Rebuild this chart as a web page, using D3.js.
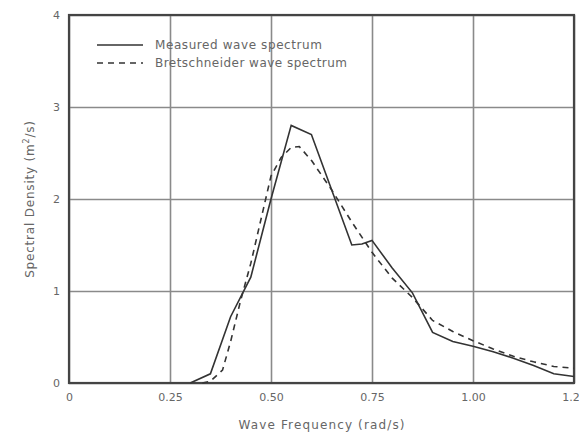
<!DOCTYPE html>
<html>
<head>
	<style type="text/css">
		body { margin: 0; background: #fff; }
		svg text { font-family: "DejaVu Sans", sans-serif; fill: #666; }
		.grid line { stroke: #8a8a8a; stroke-width: 1.6; }
		.grid path { display: none; }
		.axis path, .axis line { display: none; }
	</style>
	<script src="https://d3js.org/d3.v7.min.js"></script>
</head>
<body>
<div class="container"></div>
<script type="text/javascript">
	// values
	var freq = [0.30, 0.35, 0.40, 0.45, 0.50, 0.55, 0.60, 0.65, 0.70, 0.725, 0.75, 0.80, 0.85, 0.90, 0.95, 1.00, 1.05, 1.10, 1.15, 1.20, 1.25];
	var measured = [0, 0.10, 0.72, 1.15, 2.0, 2.8, 2.7, 2.1, 1.5, 1.51, 1.55, 1.25, 0.98, 0.55, 0.45, 0.40, 0.34, 0.27, 0.19, 0.10, 0.07];
	var bretFreq = [0.33, 0.35, 0.38, 0.40, 0.425, 0.45, 0.50, 0.525, 0.55, 0.57, 0.60, 0.65, 0.70, 0.75, 0.80, 0.85, 0.90, 0.95, 1.00, 1.05, 1.10, 1.15, 1.20, 1.25];
	var bretschneider = [0, 0.02, 0.14, 0.45, 0.9, 1.3, 2.25, 2.45, 2.56, 2.57, 2.42, 2.1, 1.75, 1.42, 1.14, 0.93, 0.68, 0.56, 0.46, 0.37, 0.29, 0.23, 0.18, 0.16];
	var xTicks = [0, 0.25, 0.5, 0.75, 1.0, 1.25];
	var yTicks = [0, 1, 2, 3, 4];
	var seriesNames = ["Measured wave spectrum", "Bretschneider wave spectrum"];

	var svg = d3.select(".container").append("svg")
		.attr("width", 579)
		.attr("height", 440);

	var margin = {top: 15, right: 5, bottom: 57, left: 69},
		width = 579 - margin.left - margin.right,
		height = 440 - margin.top - margin.bottom;

	var x = d3.scaleLinear().domain([0, 1.25]).range([0, width]),
		y = d3.scaleLinear().domain([0, 4]).range([height, 0]);

	var g = svg.append("g")
		.attr("transform", "translate(" + margin.left + "," + margin.top + ")");

	// grid
	g.append("g")
		.attr("class", "grid")
		.attr("transform", "translate(0," + height + ")")
		.call(d3.axisBottom(x).tickValues(xTicks).tickSize(-height).tickFormat(""));
	g.append("g")
		.attr("class", "grid")
		.call(d3.axisLeft(y).tickValues(yTicks).tickSize(-width).tickFormat(""));

	// tick labels
	var ax = g.append("g")
		.attr("class", "axis")
		.attr("transform", "translate(0," + height + ")")
		.call(d3.axisBottom(x).tickValues(xTicks).tickSize(0).tickPadding(10)
			.tickFormat(function(d) { return d === 0 ? "0" : d3.format(".2f")(d); }));
	ax.selectAll("text").style("font-size", "11px");

	var ay = g.append("g")
		.attr("class", "axis")
		.call(d3.axisLeft(y).tickValues(yTicks).tickSize(0).tickPadding(9).tickFormat(d3.format("d")));
	ay.selectAll("text").style("font-size", "11px");

	// frame
	g.append("rect")
		.attr("width", width)
		.attr("height", height)
		.attr("fill", "none")
		.attr("stroke", "#444")
		.attr("stroke-width", 2.2);

	var line = d3.line()
		.x(function(d) { return x(d[0]); })
		.y(function(d) { return y(d[1]); });

	g.append("path")
		.datum(d3.zip(freq, measured))
		.attr("fill", "none")
		.attr("stroke", "#333")
		.attr("stroke-width", 1.6)
		.attr("d", line);

	g.append("path")
		.datum(d3.zip(bretFreq, bretschneider))
		.attr("fill", "none")
		.attr("stroke", "#333")
		.attr("stroke-width", 1.6)
		.attr("stroke-dasharray", "6,5")
		.attr("d", line);

	// legend
	var leg = svg.append("g");
	seriesNames.forEach(function(name, i) {
		var yy = 45 + i * 18;
		leg.append("line")
			.attr("x1", 97).attr("x2", 143)
			.attr("y1", yy).attr("y2", yy)
			.attr("stroke", "#333")
			.attr("stroke-width", 1.6)
			.attr("stroke-dasharray", i === 1 ? "6,5" : null);
		leg.append("text")
			.attr("x", 155)
			.attr("y", yy + 4)
			.attr("textLength", i === 0 ? 167 : 192)
			.style("font-size", "12px")
			.text(name);
	});

	// axis titles
	svg.append("text")
		.attr("x", margin.left + width / 2)
		.attr("y", 429)
		.attr("text-anchor", "middle")
		.attr("textLength", 166)
		.style("font-size", "12px")
		.text("Wave Frequency  (rad/s)");

	var yt = svg.append("text")
		.attr("transform", "translate(34," + (margin.top + height / 2) + ") rotate(-90)")
		.attr("text-anchor", "middle")
		.style("letter-spacing", "0.8px")
		.style("font-size", "12px");
	yt.append("tspan").text("Spectral Density  (m");
	yt.append("tspan").attr("dy", -5).style("font-size", "8px").text("2");
	yt.append("tspan").attr("dy", 5).text("/s)");
</script>
</body>
</html>
